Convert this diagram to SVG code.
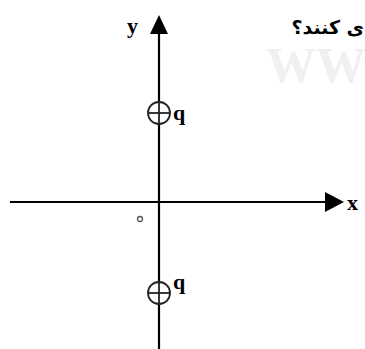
<svg xmlns="http://www.w3.org/2000/svg" width="365" height="349" viewBox="0 0 365 349">
<defs>
<style>
.ax{stroke:#000;stroke-width:2.2;fill:none}
.lbl{font-family:"Liberation Serif",serif;font-weight:bold;fill:#000}
.chg{stroke:#222;stroke-width:1.8;fill:#fff}
.cr{stroke:#222;stroke-width:1.8}
</style>
</defs>
<rect width="365" height="349" fill="#fff"/>
<text x="266" y="82" font-family="Liberation Serif,serif" font-weight="bold" font-size="50" fill="#f0f0f0">WW</text>
<text x="364" y="34" text-anchor="end" font-family="DejaVu Sans,Noto Sans,sans-serif" font-weight="bold" font-size="19" fill="#000">ی کنند؟</text>
<g id="connectors">
<line class="ax" x1="159" y1="349" x2="159" y2="34"/>
<path d="M150,34 L159,15 L168,34 z" fill="#000"/>
<line class="ax" x1="10" y1="202" x2="326" y2="202"/>
<path d="M325,192 L344,202 L325,212 z" fill="#000"/>
</g>
<g id="axis-labels">
<text class="lbl" x="127" y="33" font-size="22">y</text>
<text class="lbl" x="347" y="210" font-size="22">x</text>
<circle cx="140" cy="219" r="2.5" fill="none" stroke="#555" stroke-width="1.3"/>
</g>
<g id="charge1">
<circle class="chg" cx="159" cy="113" r="11"/>
<line class="cr" x1="148" y1="113" x2="170" y2="113"/>
<line class="cr" x1="159" y1="102" x2="159" y2="124"/>
<text class="lbl" x="173" y="120" font-size="22">q</text>
</g>
<g id="charge2">
<circle class="chg" cx="159" cy="293" r="11"/>
<line class="cr" x1="148" y1="293" x2="170" y2="293"/>
<line class="cr" x1="159" y1="282" x2="159" y2="304"/>
<text class="lbl" x="173" y="289" font-size="22">q</text>
</g>
</svg>
